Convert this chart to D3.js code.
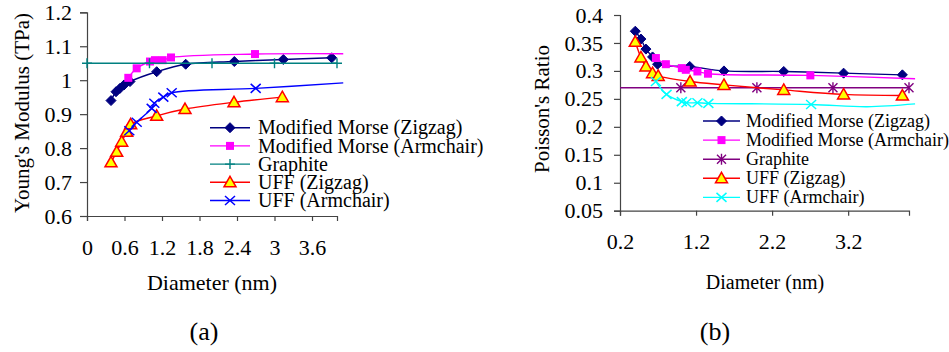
<!DOCTYPE html>
<html>
<head>
<meta charset="utf-8">
<script src="https://cdn.jsdelivr.net/npm/d3@7/dist/d3.min.js"></script>
<style>
  body { margin: 0; background: #fff; }
</style>
</head>
<body>
<svg id="chart" width="949" height="352"></svg>
<script>
// ---- (a) Young's modulus ----
var xTicksA = [0, 0.6, 1.2, 1.8, 2.4, 3, 3.6];
var yTicksA = [0.6, 0.7, 0.8, 0.9, 1, 1.1, 1.2];

var mmZigA_x = [0.384, 0.464, 0.528, 0.592, 0.688, 1.115, 1.579, 2.357, 3.141, 3.915];
var mmZigA_y = [0.940, 0.966, 0.976, 0.986, 0.996, 1.025, 1.047, 1.055, 1.061, 1.066];
var mmArmA_x = [0.661, 0.795, 1.008, 1.088, 1.211, 1.344, 2.688];
var mmArmA_y = [1.007, 1.035, 1.055, 1.059, 1.059, 1.067, 1.077];
var mmArmA_tailX = [4.1], mmArmA_tailY = [1.078];
var graphA_x = [0, 1, 2, 3, 4];
var graphA_y = [1.05, 1.05, 1.05, 1.05, 1.05];
var uffZigA_x = [0.384, 0.475, 0.555, 0.635, 0.699, 1.115, 1.568, 2.352, 3.125];
var uffZigA_y = [0.758, 0.789, 0.819, 0.848, 0.870, 0.895, 0.915, 0.935, 0.950];
var uffArmA_x = [0.677, 0.795, 1.035, 1.077, 1.221, 1.355, 2.699];
var uffArmA_y = [0.851, 0.876, 0.917, 0.932, 0.950, 0.963, 0.976];
var uffArmA_tailX = [4.1], uffArmA_tailY = [0.992];

// ---- (b) Poisson's ratio ----
var xTicksB = [0.2, 1.2, 2.2, 3.2];
var yTicksB = [0.05, 0.1, 0.15, 0.2, 0.25, 0.3, 0.35, 0.4];

var mmZigB_x = [0.401, 0.475, 0.541, 0.628, 0.694, 1.117, 1.567, 2.353, 3.140, 3.913];
var mmZigB_y = [0.371, 0.357, 0.339, 0.325, 0.312, 0.308, 0.300, 0.299, 0.296, 0.293];
var mmArmB_x = [0.672, 0.803, 1.013, 1.065, 1.218, 1.357, 2.703];
var mmArmB_y = [0.323, 0.312, 0.305, 0.302, 0.299, 0.295, 0.292];
var mmArmB_tailX = [4.08], mmArmB_tailY = [0.286];
var graphB_x = [0, 1, 2, 3, 4];
var graphB_y = [0.27, 0.27, 0.27, 0.27, 0.27];
var uffZigB_x = [0.401, 0.475, 0.541, 0.628, 0.702, 1.121, 1.567, 2.353, 3.140, 3.913];
var uffZigB_y = [0.352, 0.324, 0.308, 0.296, 0.291, 0.281, 0.275, 0.266, 0.258, 0.256];
var uffArmB_x = [0.672, 0.812, 1.013, 1.074, 1.218, 1.362, 2.713];
var uffArmB_y = [0.281, 0.258, 0.245, 0.243, 0.243, 0.242, 0.240];
var uffArmB_tailX = [3.45, 4.08], uffArmB_tailY = [0.236, 0.241];

var seriesNames = ["Modified Morse (Zigzag)", "Modified Morse (Armchair)", "Graphite", "UFF (Zigzag)", "UFF (Armchair)"];

var FONT = "Liberation Serif, Times New Roman, Times, DejaVu Serif, serif";

var svg = d3.select("#chart").attr("font-family", FONT);

function zip(xs, ys) {
	return xs.map(function(x, i) { return [x, ys[i]]; });
}

// marker shapes, drawn around (0,0)
function marker(g, type, color) {
	if (type == "diamond") {
		g.append("path").attr("d", "M0,-5L5,0L0,5L-5,0Z").attr("fill", color).attr("stroke", color);
	} else if (type == "square") {
		g.append("rect").attr("x", -4).attr("y", -4).attr("width", 8).attr("height", 8).attr("fill", color);
	} else if (type == "plus") {
		g.append("path").attr("d", "M-5,0H5M0,-5V5").attr("stroke", color).attr("stroke-width", 1.4);
	} else if (type == "triangle") {
		g.append("path").attr("d", "M0,-6L6,4.5L-6,4.5Z").attr("fill", "#ffff00")
			.attr("stroke", color).attr("stroke-width", 1.5);
	} else if (type == "cross") {
		g.append("path").attr("d", "M-5,-4.5L5,4.5M-5,4.5L5,-4.5").attr("stroke", color).attr("stroke-width", 1.5);
	} else if (type == "star") {
		g.append("path").attr("d", "M-4.5,-4.5L4.5,4.5M-4.5,4.5L4.5,-4.5M0,-5.5V5.5").attr("stroke", color).attr("stroke-width", 1.4);
	}
}

function drawPanel(cfg) {
	var x = d3.scaleLinear().domain(cfg.xDomain).range(cfg.xRange);
	var y = d3.scaleLinear().domain(cfg.yDomain).range(cfg.yRange);
	var g = svg.append("g");

	g.append("clipPath").attr("id", cfg.id + "-clip")
		.append("rect")
		.attr("x", cfg.xRange[0]).attr("y", 0)
		.attr("width", cfg.xRange[1] - cfg.xRange[0] + 12)
		.attr("height", cfg.yRange[0]);

	var fmt = function(d) { return String(+d.toFixed(2)); };
	var xAxis = d3.axisBottom(x).tickValues(cfg.xTicks).tickSize(5).tickPadding(18).tickFormat(fmt);
	var yAxis = d3.axisLeft(y).tickValues(cfg.yTicks).tickSize(cfg.yTickSize).tickPadding(cfg.yPad).tickFormat(fmt);

	var gx = g.append("g").attr("transform", "translate(0," + cfg.yRange[0] + ")").call(xAxis);
	var gy = g.append("g").attr("transform", "translate(" + cfg.xRange[0] + ",0)").call(yAxis);
	[gx, gy].forEach(function(ax) {
		ax.attr("font-family", FONT).attr("font-size", cfg.tickFont);
		ax.select(".domain").attr("stroke", "#444").attr("stroke-width", 1.2);
		ax.selectAll(".tick line").attr("stroke", "#444").attr("stroke-width", 1.2);
		ax.selectAll("text").attr("fill", "#000");
	});

	var line = d3.line()
		.x(function(d) { return x(d[0]); })
		.y(function(d) { return y(d[1]); })
		.curve(d3.curveCatmullRom.alpha(0.5));

	cfg.series.forEach(function(s) {
		var pts = zip(s.x, s.y);
		var linePts = pts.concat(zip(s.tailX || [], s.tailY || []));
		g.append("path")
			.attr("d", line(linePts))
			.attr("fill", "none")
			.attr("stroke", s.color)
			.attr("stroke-width", 1.4)
			.attr("clip-path", "url(#" + cfg.id + "-clip)");

		pts.filter(function(p) { return p[0] >= cfg.xDomain[0]; }).forEach(function(p) {
			var m = g.append("g").attr("transform", "translate(" + x(p[0]) + "," + y(p[1]) + ")");
			marker(m, s.marker, s.color);
		});
	});

	// legend
	cfg.series.forEach(function(s, i) {
		var ly = cfg.legend.rows[i];
		g.append("line")
			.attr("x1", cfg.legend.x1).attr("x2", cfg.legend.x2)
			.attr("y1", ly).attr("y2", ly)
			.attr("stroke", s.color).attr("stroke-width", 1.4);
		var m = g.append("g").attr("transform", "translate(" + (cfg.legend.x1 + cfg.legend.x2) / 2 + "," + ly + ")");
		marker(m, s.marker, s.color);
		g.append("text")
			.attr("x", cfg.legend.textX).attr("y", ly).attr("dy", "0.33em")
			.attr("font-size", cfg.legend.font + "px")
			.text(seriesNames[i]);
	});

	// titles
	g.append("text")
		.attr("x", cfg.xTitle[0]).attr("y", cfg.xTitle[1])
		.attr("text-anchor", "middle").attr("font-size", cfg.xTitle[2] + "px")
		.text("Diameter (nm)");
	g.append("text")
		.attr("transform", "translate(" + cfg.yTitle[0] + "," + cfg.yTitle[1] + ") rotate(-90)")
		.attr("text-anchor", "middle").attr("dy", "0.35em").attr("font-size", cfg.yTitle[2] + "px")
		.text(cfg.yLabel);
	g.append("text")
		.attr("x", cfg.caption[0]).attr("y", 340)
		.attr("text-anchor", "middle").attr("font-size", "26px")
		.text(cfg.captionText);
}

drawPanel({
	id: "a",
	xDomain: [0, 4], xRange: [87, 337],
	yDomain: [0.6, 1.2], yRange: [216, 12.3],
	xTicks: xTicksA, yTicks: yTicksA,
	yTickSize: 7, yPad: 8, tickFont: 22,
	series: [
		{ x: mmZigA_x, y: mmZigA_y, color: "#000080", marker: "diamond" },
		{ x: mmArmA_x, y: mmArmA_y, tailX: mmArmA_tailX, tailY: mmArmA_tailY, color: "#ff00ff", marker: "square" },
		{ x: graphA_x, y: graphA_y, color: "#008080", marker: "plus" },
		{ x: uffZigA_x, y: uffZigA_y, color: "#ff0000", marker: "triangle" },
		{ x: uffArmA_x, y: uffArmA_y, tailX: uffArmA_tailX, tailY: uffArmA_tailY, color: "#0000ff", marker: "cross" }
	],
	legend: { x1: 210, x2: 250, textX: 258, font: 20, rows: [127.7, 145.9, 164.1, 182.3, 200.5] },
	xTitle: [212, 290, 22],
	yTitle: [22, 113, 21],
	yLabel: "Young's Modulus (TPa)",
	caption: [204], captionText: "(a)"
});

drawPanel({
	id: "b",
	xDomain: [0.2, 4.0], xRange: [620, 909],
	yDomain: [0.05, 0.4], yRange: [210.7, 15],
	xTicks: xTicksB, yTicks: yTicksB,
	yTickSize: 6, yPad: 11, tickFont: 22,
	series: [
		{ x: mmZigB_x, y: mmZigB_y, color: "#000080", marker: "diamond" },
		{ x: mmArmB_x, y: mmArmB_y, tailX: mmArmB_tailX, tailY: mmArmB_tailY, color: "#ff00ff", marker: "square" },
		{ x: graphB_x, y: graphB_y, color: "#800080", marker: "star" },
		{ x: uffZigB_x, y: uffZigB_y, color: "#ff0000", marker: "triangle" },
		{ x: uffArmB_x, y: uffArmB_y, tailX: uffArmB_tailX, tailY: uffArmB_tailY, color: "#00ffff", marker: "cross" }
	],
	legend: { x1: 703, x2: 740, textX: 746, font: 18, rows: [121, 140.1, 159.2, 178.3, 197.4] },
	xTitle: [765, 289, 20],
	yTitle: [542, 109, 21],
	yLabel: "Poisson's Ratio",
	caption: [715], captionText: "(b)"
});
</script>
</body>
</html>
